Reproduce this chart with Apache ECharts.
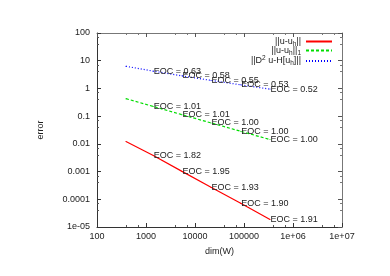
<!DOCTYPE html>
<html><head><meta charset="utf-8">
<script src="https://cdn.jsdelivr.net/npm/echarts@6/dist/echarts.min.js"></script>
<style>html,body{margin:0;padding:0;background:#fff}#c{width:390px;height:276px}</style>
</head><body><div id="c"></div>
<script>
const dims = [390, 1410, 5430, 21200, 85700, 339600];
const errL2 = [0.01216, 0.00378, 0.001016, 0.000273, 0.0000724, 0.0000186];
const errH1 = [0.427, 0.223, 0.113, 0.0571, 0.0284, 0.0143];
const errH2 = [6.30, 4.21, 2.84, 1.95, 1.35, 0.944];
const eocL2 = [null, '1.82', '1.95', '1.93', '1.90', '1.91'];
const eocH1 = [null, '1.01', '1.01', '1.00', '1.00', '1.00'];
const eocH2 = [null, '0.63', '0.58', '0.55', '0.53', '0.52'];
const seriesNames = ['||u-u{sub|h}||', '||u-u{sub|h}||{sub|1}', '||D{sup|2} u-H[u{sub|h}]||'];
const xTickLabels = {2:'100',3:'1000',4:'10000',5:'100000',6:'1e+06',7:'1e+07'};
const yTickLabels = {2:'100',1:'10',0:'1','-1':'0.1','-2':'0.01','-3':'0.001','-4':'0.0001','-5':'1e-05'};

const FONT = 'Liberation Sans';
const chart = echarts.init(document.getElementById('c'), null, {renderer:'canvas'});

function mk(name, errs, eocs, color, type) {
  return {
    name: name, type: 'line', xAxisIndex: 0, yAxisIndex: 0,
    symbol: 'circle', symbolSize: 1, showSymbol: true,
    lineStyle: {color: color, width: 1.2, type: type},
    itemStyle: {color: color},
    animation: false,
    data: dims.map((d, i) => ({
      value: [d, errs[i]],
      label: {show: eocs[i] !== null, formatter: 'EOC = ' + eocs[i], position: 'right', distance: 0,
               color: '#222', fontFamily: FONT, fontSize: 9}
    }))
  };
}
const rich = {sub: {fontSize: 6.5, fontFamily: FONT, color:'#222', padding:[5,0,0,0]}, sup: {fontSize: 6.5, fontFamily: FONT, color:'#222', padding:[0,0,5,0]}};
function legendFor(i, top) {
  return {
    data: [seriesNames[i]], right: 57, top: top, orient: 'vertical', align: 'right',
    itemWidth: 26, itemHeight: 6, itemGap: 0, padding: 0, selectedMode: false,
    itemStyle: {opacity: 0},
    textStyle: {fontFamily: FONT, fontSize: 9, color: '#222', rich: rich}
  };
}
const axisLineStyle = {color: '#333', width: 1};
chart.setOption({
  backgroundColor: '#fff',
  animation: false,
  grid: {left: 97, top: 33, right: 48, bottom: 49},
  legend: [legendFor(0, 37), legendFor(1, 46), legendFor(2, 55)],
  xAxis: [{
    type: 'log', logBase: 10, min: 100, max: 1e7,
    name: 'dim(W)', nameLocation: 'middle', nameGap: 20,
    nameTextStyle: {fontFamily: FONT, fontSize: 9, color: '#222'},
    axisLine: {lineStyle: axisLineStyle},
    axisTick: {inside: true, length: 4, lineStyle: {color:'#333'}},
    minorTick: {show: true, splitNumber: 3, length: 2, lineStyle:{color:'#555'}},
    splitLine: {show: false},
    axisLabel: {fontFamily: FONT, fontSize: 9, color: '#222', margin: 5,
      formatter: v => xTickLabels[Math.round(Math.log10(v))] || ''}
  }, {
    type: 'log', logBase: 10, min: 100, max: 1e7, position: 'top',
    axisLine: {lineStyle: {color:'#777'}},
    axisTick: {inside: true, length: 4, lineStyle: {color:'#555'}},
    minorTick: {show: true, splitNumber: 3, length: 2, lineStyle:{color:'#777'}},
    splitLine: {show: false}, axisLabel: {show: false}
  }],
  yAxis: [{
    type: 'log', logBase: 10, min: 1e-5, max: 100,
    name: 'error', nameLocation: 'middle', nameGap: 52, nameRotate: 90,
    nameTextStyle: {fontFamily: FONT, fontSize: 9, color: '#222'},
    axisLine: {lineStyle: axisLineStyle},
    axisTick: {inside: true, length: 4, lineStyle: {color:'#333'}},
    minorTick: {show: true, splitNumber: 3, length: 2, lineStyle:{color:'#555'}},
    splitLine: {show: false},
    axisLabel: {fontFamily: FONT, fontSize: 9, color: '#222', margin: 7,
      formatter: v => yTickLabels[Math.round(Math.log10(v))] || ''}
  }, {
    type: 'log', logBase: 10, min: 1e-5, max: 100, position: 'right',
    axisLine: {lineStyle: {color:'#777'}},
    axisTick: {inside: true, length: 4, lineStyle: {color:'#555'}},
    minorTick: {show: true, splitNumber: 3, length: 2, lineStyle:{color:'#777'}},
    splitLine: {show: false}, axisLabel: {show: false}
  }],
  series: [
    mk(seriesNames[0], errL2, eocL2, '#ff0000', 'solid'),
    mk(seriesNames[1], errH1, eocH1, '#00dd00', [3, 2]),
    mk(seriesNames[2], errH2, eocH2, '#0000ff', [1, 2])
  ]
});
</script></body></html>
